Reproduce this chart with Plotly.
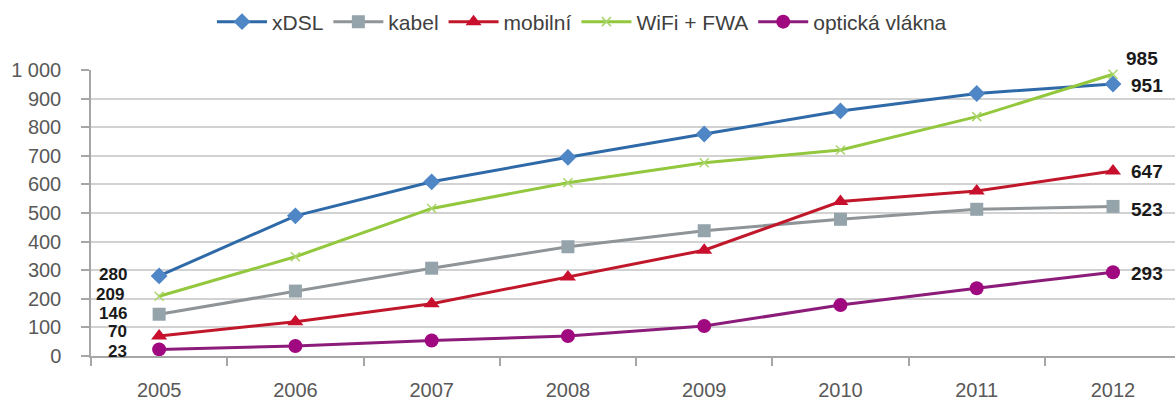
import plotly.graph_objects as go

# Broadband connections by technology (thousands), 2005–2012
years = ["2005", "2006", "2007", "2008", "2009", "2010", "2011", "2012"]

xdsl = [280, 490, 609, 695, 776, 857, 918, 951]
kabel = [146, 227, 307, 382, 438, 478, 513, 523]
mobilni = [70, 120, 183, 276, 370, 540, 577, 647]
wifi_fwa = [209, 347, 516, 606, 676, 720, 837, 985]
opticka = [23, 35, 54, 70, 105, 178, 237, 293]

y_ticks = [0, 100, 200, 300, 400, 500, 600, 700, 800, 900, 1000]
y_tick_text = ["0", "100", "200", "300", "400", "500", "600", "700", "800", "900", "1 000"]

FONT = "Liberation Sans, Arial, sans-serif"
TICK_GRAY = "#595959"
GRID = "#d2d2d2"
LEFT_LABEL_FONT = dict(family=FONT, size=17, color="#1a1a1a")
RIGHT_LABEL_FONT = dict(family=FONT, size=19, color="#1a1a1a")

series = [
    # name, values, line colour, marker colour, symbol, marker size, marker line
    ("xDSL", xdsl, "#2f6aa8", "#4f86c6", "diamond", 13, None),
    ("kabel", kabel, "#8e9498", "#95a3ab", "square", 13, None),
    ("mobilní", mobilni, "#c0182a", "#c8102e", "triangle-up", 14, None),
    ("WiFi + FWA", wifi_fwa, "#93c83e", "#a9d46b", "x-thin", 9, 1.5),
    ("optická vlákna", opticka, "#8c1c7a", "#a0087f", "circle", 14, None),
]

fig = go.Figure()
for name, vals, lc, mc, sym, size, mlw in series:
    marker = dict(symbol=sym, size=size, color=mc)
    if mlw:
        marker["line"] = dict(color=mc, width=mlw)
    fig.add_trace(go.Scatter(
        x=years, y=vals, name=name, mode="lines+markers",
        line=dict(color=lc, width=3), marker=marker, cliponaxis=False,
    ))

# Value labels at the first year, stacked to the left of the markers
left_shift = {"xDSL": (-31, 1), "kabel": (-31, 1), "mobilní": (-31, 4),
              "WiFi + FWA": (-34, 2), "optická vlákna": (-31, -2)}
# Value labels at the last year, to the right of the markers
right_shift = {"xDSL": (17, -1), "kabel": (17, -3), "mobilní": (17, -1),
               "WiFi + FWA": (12, 4), "optická vlákna": (17, -1)}

first_idx = 0
last_idx = len(years) - 1
for name, vals, *_ in series:
    dx, dy = left_shift[name]
    fig.add_annotation(x=first_idx, y=vals[first_idx], xref="x", yref="y",
                       text=f"<b>{vals[first_idx]}</b>",
                       showarrow=False, xanchor="right", yanchor="middle",
                       xshift=dx, yshift=dy, borderpad=0,
                       font=LEFT_LABEL_FONT)
    dx, dy = right_shift[name]
    fig.add_annotation(x=last_idx, y=vals[last_idx], xref="x", yref="y",
                       text=f"<b>{vals[last_idx]}</b>",
                       showarrow=False, xanchor="left",
                       yanchor="bottom" if name == "WiFi + FWA" else "middle",
                       xshift=dx, yshift=dy, borderpad=0,
                       font=RIGHT_LABEL_FONT)

fig.update_layout(
    width=1175, height=405,
    margin=dict(l=91, r=0, t=70, b=49),
    paper_bgcolor="white", plot_bgcolor="white",
    font=dict(family=FONT, size=20, color=TICK_GRAY),
    showlegend=True,
    legend=dict(
        orientation="h", xref="container", yref="container",
        x=212 / 1175, y=1 - 22 / 405, xanchor="left", yanchor="middle",
        font=dict(family=FONT, size=21, color="#404040"),
        itemwidth=50, tracegroupgap=0, bgcolor="rgba(0,0,0,0)",
    ),
)

fig.update_xaxes(
    type="category", range=[-0.5, 7.455], automargin=False,
    showgrid=False, showline=True, linecolor="#a6a6a6", linewidth=1.5,
    ticks="outside", ticklen=8, tickcolor="#a6a6a6", tickwidth=1.5,
    tickson="boundaries", ticklabelstandoff=15,
    tickfont=dict(family=FONT, size=20, color=TICK_GRAY),
)
fig.update_yaxes(
    range=[0, 1000], tickvals=y_ticks, ticktext=y_tick_text, automargin=False,
    showgrid=True, gridcolor=GRID, gridwidth=1.5,
    showline=True, linecolor="#a6a6a6", linewidth=1.5,
    ticks="outside", ticklen=8, tickcolor="#a6a6a6", tickwidth=1.5,
    ticklabelstandoff=16, zeroline=False,
    tickfont=dict(family=FONT, size=20, color=TICK_GRAY),
)

fig.write_html("out.html")
